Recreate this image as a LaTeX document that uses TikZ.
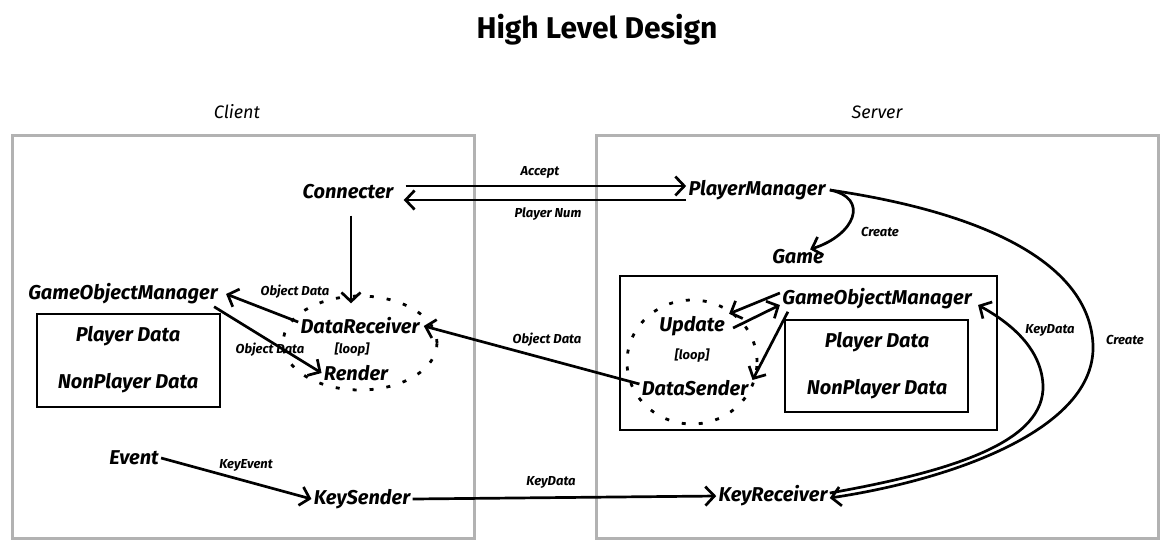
\documentclass[tikz,border=0pt]{standalone}
\usepackage{fontspec}
\setmainfont{Fira Sans}
\usetikzlibrary{arrows.meta}
\begin{document}
\begin{tikzpicture}[x=0.5pt,y=-0.5pt,
 lbl/.style={font=\fontsize{10}{12}\selectfont\bfseries\itshape, inner sep=1pt},
 small/.style={font=\fontsize{6.5}{8}\selectfont\bfseries\itshape, inner sep=1pt},
 head/.style={font=\fontsize{9}{11}\selectfont\itshape, inner sep=1pt},
 titlefont/.style={font=\fontsize{15}{17}\selectfont\bfseries, inner sep=1pt},
 arr/.style={line width=1.35pt,-{Straight Barb[length=4.5pt,width=9.5pt,line width=1.35pt]}},
 region/.style={draw=gray!60, line width=1.5pt},
 blk/.style={draw=black, line width=1.4pt},
 loopdots/.style={line width=1.4pt, dash pattern=on 2pt off 6.5pt}]
\useasboundingbox (0,0) rectangle (1175,554);

\node[titlefont] (title) at (597,30) {High Level Design};
\node[head] (client) at (237,112) {Client};
\node[head] (server) at (877,112) {Server};
\draw[region] (12,135) rectangle (474,538);
\draw[region] (596,135) rectangle (1158,538);

% client side
\node[lbl] (conn) at (348,192) {Connecter};
\node[lbl] (cgom) at (123,294) {GameObjectManager};
\draw[blk] (37,314) rectangle (220,407);
\node[lbl] (cpd) at (128,336) {Player Data};
\node[lbl] (cnpd) at (128,383) {NonPlayer Data};
\node[lbl] (drec) at (360,326) {DataReceiver};
\node[small] (cloop) at (352,350) {[loop]};
\node[lbl] (rend) at (356,373) {Render};
\draw[loopdots] (360,343) ellipse [x radius=38.5pt, y radius=23.5pt];
\node[lbl] (event) at (134,458) {Event};
\node[lbl] (ksend) at (362,499) {KeySender};

% server side
\node[lbl] (pm) at (757,190) {PlayerManager};
\node[lbl] (game) at (798,257) {Game};
\draw[blk] (620,276) rectangle (997,430);
\draw[blk] (785,320) rectangle (968,412);
\node[lbl] (sgom) at (877,299) {GameObjectManager};
\node[lbl] (spd) at (877,342) {Player Data};
\node[lbl] (snpd) at (877,389) {NonPlayer Data};
\node[lbl] (upd) at (692,326) {Update};
\node[small] (sloop) at (692,356) {[loop]};
\node[lbl] (dsend) at (695,388) {DataSender};
\draw[loopdots] (692,362) ellipse [x radius=32.5pt, y radius=31pt];
\node[lbl] (krec) at (773,496) {KeyReceiver};

% labels
\node[small] (laccept) at (540,172) {Accept};
\node[small] (lpnum) at (548,214) {Player Num};
\node[small] (lcreate1) at (880,232) {Create};
\node[small] (lcreate2) at (1125,340) {Create};
\node[small] (lkeydata1) at (1050,330) {KeyData};
\node[small] (lobj1) at (295,292) {Object Data};
\node[small] (lobj2) at (270,350) {Object Data};
\node[small] (lobj3) at (547,340) {Object Data};
\node[small] (lkeyevent) at (246,465) {KeyEvent};
\node[small] (lkeydata2) at (551,482) {KeyData};

% connectors
\draw[arr] ([xshift=5pt,yshift=3pt]conn.east) -- ([yshift=2pt]pm.west);
\draw[arr] ([yshift=-5pt]pm.west) -- ([xshift=4pt,yshift=-4pt]conn.east);
\draw[arr, shorten <=7pt, shorten >=6pt] ([xshift=1.5pt]conn.south) -- ([xshift=1.5pt]conn.south |- drec.north);
\draw[arr] ([yshift=2pt]drec.west) -- ([xshift=3pt]cgom.east);
\draw[arr] ([xshift=-3pt]cgom.south east) -- (rend.west);
\draw[arr] ([yshift=2pt]dsend.west) -- ([xshift=1pt]drec.east);
\draw[arr] ([yshift=3pt]sgom.west) -- ([xshift=1pt]upd.north east);
\draw[arr] ([xshift=3pt,yshift=-1pt]upd.east) -- ([yshift=-3pt]sgom.west);
\draw[arr] ([xshift=4pt]sgom.south west) -- ([xshift=1pt,yshift=4pt]dsend.east);
\draw[arr] ([xshift=1pt]pm.east) .. controls (870,198) and (855,235) .. ([xshift=-8pt,yshift=-1pt]game.north east);
\draw[arr] ([xshift=1pt]pm.east) .. controls (1000,215) and (1090,270) .. (1093,345) .. controls (1096,430) and (950,480) .. ([yshift=-1pt]krec.east);
\draw[arr] ([yshift=1.5pt]krec.east) .. controls (960,470) and (1045,440) .. (1043,385) .. controls (1041,345) and (1005,320) .. ([xshift=2pt,yshift=-3pt]sgom.east);
\draw[arr] (event.east) -- (ksend.west);
\draw[arr] (ksend.east) -- (krec.west);
\end{tikzpicture}
\end{document}
